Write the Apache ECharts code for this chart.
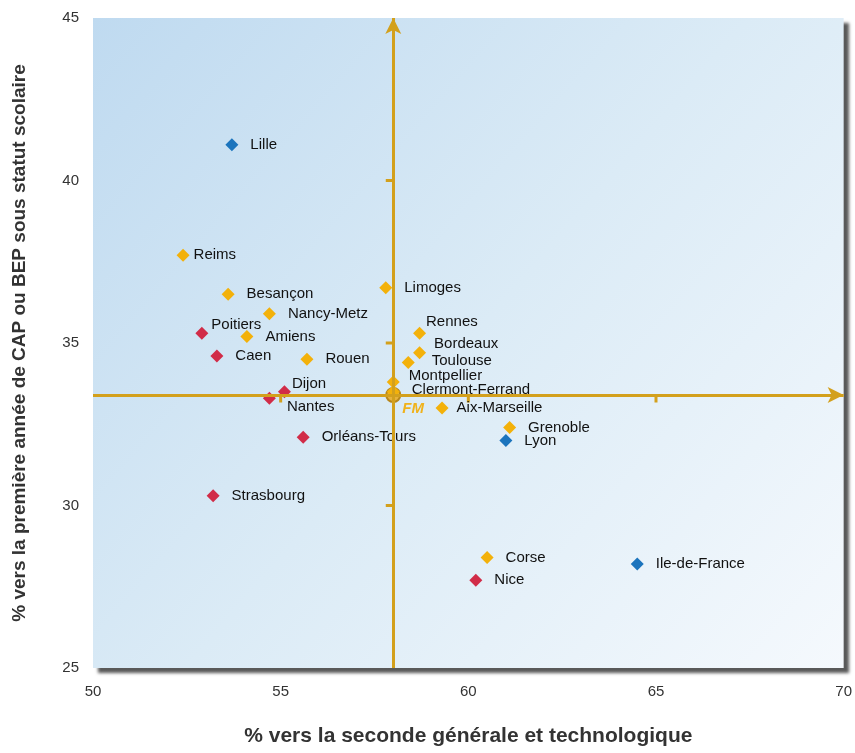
<!DOCTYPE html>
<html>
<head>
<meta charset="utf-8">
<script src="https://cdn.jsdelivr.net/npm/echarts@6/dist/echarts.min.js"></script>
<style>
  html, body { margin: 0; padding: 0; background: #fff; }
  #chart { width: 855px; height: 753px; }
</style>
</head>
<body>
<div id="chart"></div>
<script>
// académies : % vers la seconde GT (x), % vers CAP/BEP sous statut scolaire (y)
const regions = ['Lille', 'Lyon', 'Ile-de-France',
  'Reims', 'Besançon', 'Nancy-Metz', 'Amiens', 'Rouen', 'Limoges', 'Rennes', 'Bordeaux',
  'Toulouse', 'Montpellier', 'Clermont-Ferrand', 'Aix-Marseille', 'Grenoble', 'Corse',
  'Poitiers', 'Caen', 'Dijon', 'Nantes', 'Orléans-Tours', 'Strasbourg', 'Nice']
const pctSeconde = [53.7, 61.0, 64.5,
  52.4, 53.6, 54.7, 54.1, 55.7, 57.8, 58.7, 58.7,
  58.4, 58.0, 58.0, 59.3, 61.1, 60.5,
  52.9, 53.3, 55.1, 54.7, 55.6, 53.2, 60.2]
const pctCap = [41.1, 32.0, 28.2,
  37.7, 36.5, 35.9, 35.2, 34.5, 36.7, 35.3, 34.7,
  34.4, 33.8, 33.5, 33.0, 32.4, 28.4,
  35.3, 34.6, 33.5, 33.3, 32.1, 30.3, 27.7]
const groups = ['bleu', 'bleu', 'bleu',
  'jaune', 'jaune', 'jaune', 'jaune', 'jaune', 'jaune', 'jaune', 'jaune',
  'jaune', 'jaune', 'jaune', 'jaune', 'jaune', 'jaune',
  'rouge', 'rouge', 'rouge', 'rouge', 'rouge', 'rouge', 'rouge']

// France métropolitaine
const fmX = 58.0
const fmY = 33.4

const xTicks = [50, 55, 60, 65, 70]
const yTicks = [25, 30, 35, 40, 45]

const colors = { bleu: '#1b74bd', jaune: '#f3b10a', rouge: '#d12c48' }
const gold = '#d3a01c'

// petits décalages des étiquettes pour éviter les chevauchements
const labelShift = {
  'Reims': [-8, 0], 'Rennes': [-12, -11], 'Bordeaux': [-4, -9], 'Toulouse': [5, -2],
  'Montpellier': [-3, -6], 'Clermont-Ferrand': [0, -2], 'Aix-Marseille': [-4, 0],
  'Poitiers': [-9, -8], 'Dijon': [-11, -8], 'Nantes': [-1, 9],
}

const chart = echarts.init(document.getElementById('chart'))

function groupData(g) {
  const out = []
  regions.forEach((name, i) => {
    if (groups[i] !== g) return
    const item = { name, value: [pctSeconde[i], pctCap[i]] }
    if (labelShift[name]) item.label = { offset: labelShift[name] }
    out.push(item)
  })
  return out
}

const labelStyle = {
  show: true,
  position: 'right',
  distance: 12,
  formatter: p => p.name,
  color: '#111',
  fontSize: 15,
  fontFamily: 'Liberation Sans, Arial, sans-serif',
}

const tickFont = { fontFamily: 'Liberation Sans, sans-serif', fontSize: 15, color: '#333' }
const nameFont = { fontFamily: 'Liberation Sans, Arial, sans-serif', fontWeight: 'bold', color: '#333' }

const option = {
  animation: false,
  grid: {
    left: 93, right: 10, top: 18, bottom: 85,
    show: true,
    borderWidth: 0,
    backgroundColor: new echarts.graphic.LinearGradient(0, 0, 1, 1, [
      { offset: 0, color: '#bfdaf0' },
      { offset: 0.5, color: '#dbebf6' },
      { offset: 1, color: '#f5f9fd' },
    ]),
    shadowColor: 'rgba(60,60,60,0.85)',
    shadowBlur: 3,
    shadowOffsetX: 5,
    shadowOffsetY: 5,
  },
  xAxis: {
    type: 'value', min: xTicks[0], max: xTicks[xTicks.length - 1], interval: 5,
    axisLine: { show: false }, axisTick: { show: false }, splitLine: { show: false },
    axisLabel: { ...tickFont, margin: 16 },
    name: '% vers la seconde générale et technologique',
    nameLocation: 'middle', nameGap: 58,
    nameTextStyle: { ...nameFont, fontSize: 21 },
  },
  yAxis: {
    type: 'value', min: yTicks[0], max: yTicks[yTicks.length - 1], interval: 5,
    axisLine: { show: false }, axisTick: { show: false }, splitLine: { show: false },
    axisLabel: { ...tickFont, margin: 14 },
    name: '% vers la première année de CAP ou BEP sous statut scolaire',
    nameLocation: 'middle', nameGap: 64,
    nameTextStyle: { ...nameFont, fontSize: 19 },
  },
  series: [
    {
      type: 'scatter', name: 'FM', z: 3,
      data: [{ name: 'FM', value: [fmX, fmY] }],
      symbol: 'circle', symbolSize: 14,
      itemStyle: { color: '#e8b23a', borderColor: '#b8871a', borderWidth: 2, opacity: 1 },
      label: {
        show: true, position: 'right', offset: [-4, 14], formatter: 'FM',
        color: '#f0b21c', fontStyle: 'italic', fontWeight: 'bold', fontSize: 15,
        fontFamily: 'Liberation Sans, Arial, sans-serif',
      },
      markLine: {
        silent: true,
        symbol: ['none', 'arrow'],
        symbolSize: [12, 16],
        label: { show: false },
        lineStyle: { color: gold, width: 3, type: 'solid', opacity: 1 },
        data: [
          [{ coord: [fmX, yTicks[0]] }, { coord: [fmX, yTicks[yTicks.length - 1]] }],
          [{ coord: [xTicks[0], fmY] }, { coord: [xTicks[xTicks.length - 1], fmY] }],
        ],
      },
    },
    // graduations sur les axes centraux
    {
      type: 'scatter', silent: true, z: 2,
      data: yTicks.slice(1, -1).map(v => [fmX, v]),
      symbol: 'rect', symbolSize: [7, 3], symbolOffset: [-4, 0],
      itemStyle: { color: gold, opacity: 1 },
    },
    {
      type: 'scatter', silent: true, z: 2,
      data: xTicks.slice(1, -1).map(v => [v, fmY]),
      symbol: 'rect', symbolSize: [3, 7], symbolOffset: [0, 4],
      itemStyle: { color: gold, opacity: 1 },
    },
    ...['bleu', 'jaune', 'rouge'].map(g => ({
      type: 'scatter', name: g, z: 4,
      data: groupData(g),
      symbol: 'diamond', symbolSize: 13,
      itemStyle: { color: colors[g], opacity: 1 },
      label: labelStyle,
    })),
  ],
}

chart.setOption(option)
</script>
</body>
</html>
